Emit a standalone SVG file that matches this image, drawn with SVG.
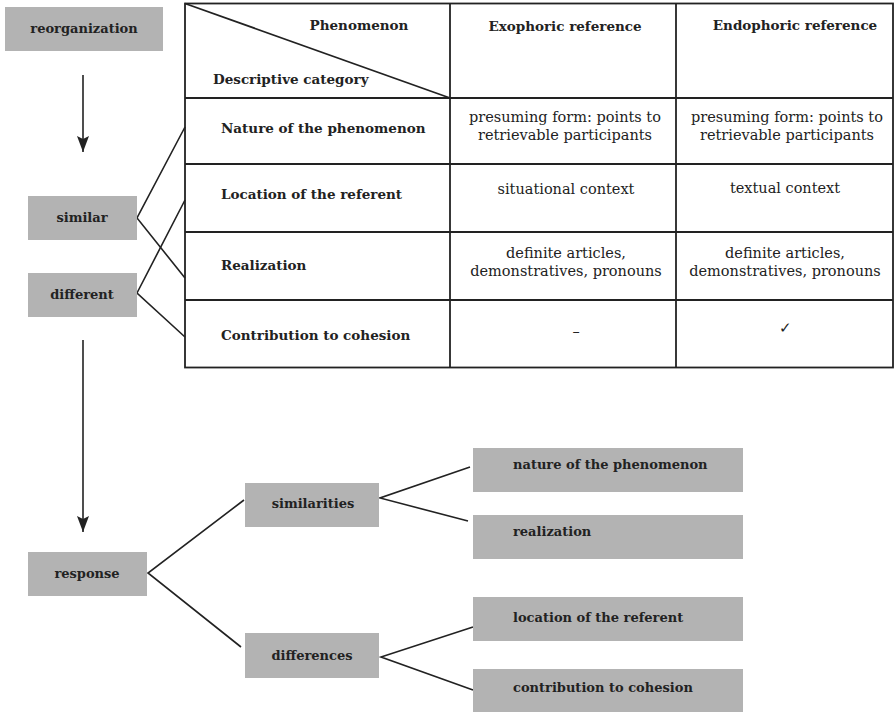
<svg xmlns="http://www.w3.org/2000/svg" width="895" height="712" viewBox="0 0 895 712">
<style>
.box{fill:#b3b3b3;}
.lbl{font-family:"DejaVu Serif","Liberation Serif",serif;font-weight:bold;font-size:13px;fill:#222;}
.hdr{font-family:"DejaVu Serif","Liberation Serif",serif;font-weight:bold;font-size:13.5px;fill:#222;}
.cell{font-family:"DejaVu Serif","Liberation Serif",serif;font-size:14.5px;fill:#222;text-anchor:middle;}
.c{text-anchor:middle;}
.ln{stroke:#222;stroke-width:1.6;fill:none;}
.tb{stroke:#222;stroke-width:1.8;fill:none;}
</style>
<defs>
<marker id="ah" viewBox="0 0 16 12" refX="16" refY="6" markerWidth="16" markerHeight="12" markerUnits="userSpaceOnUse" orient="auto">
<path d="M0,0 L16,6 L0,12 L3,6 Z" fill="#222"/>
</marker>
</defs>
<rect width="895" height="712" fill="#fff"/>

<g id="table">
<rect class="tb" x="185" y="3.5" width="708" height="364"/>
<line class="tb" x1="185" y1="3.5" x2="450" y2="98"/>
<line class="tb" x1="450" y1="3.5" x2="450" y2="367.5"/>
<line class="tb" x1="676" y1="3.5" x2="676" y2="367.5"/>
<line class="tb" x1="185" y1="98" x2="893" y2="98"/>
<line class="tb" x1="185" y1="164" x2="893" y2="164"/>
<line class="tb" x1="185" y1="232" x2="893" y2="232"/>
<line class="tb" x1="185" y1="300" x2="893" y2="300"/>
<text class="hdr c" x="359" y="30">Phenomenon</text>
<text class="hdr" x="213" y="84">Descriptive category</text>
<text class="hdr c" x="565" y="31">Exophoric reference</text>
<text class="hdr c" x="795" y="30">Endophoric reference</text>
<text class="hdr" x="221" y="133">Nature of the phenomenon</text>
<text class="hdr" x="221" y="199">Location of the referent</text>
<text class="hdr" x="221" y="270">Realization</text>
<text class="hdr" x="221" y="340">Contribution to cohesion</text>
<text class="cell" x="565" y="122">presuming form: points to</text>
<text class="cell" x="565" y="140">retrievable participants</text>
<text class="cell" x="787" y="122">presuming form: points to</text>
<text class="cell" x="787" y="140">retrievable participants</text>
<text class="cell" x="566" y="194">situational context</text>
<text class="cell" x="785" y="193">textual context</text>
<text class="cell" x="566" y="258">definite articles,</text>
<text class="cell" x="566" y="276">demonstratives, pronouns</text>
<text class="cell" x="785" y="258">definite articles,</text>
<text class="cell" x="785" y="276">demonstratives, pronouns</text>
<text class="cell" x="576" y="336">–</text>
<text class="cell" x="785" y="333">✓</text>
</g>

<g id="connectors">
<line class="ln" x1="83" y1="75" x2="83" y2="152" marker-end="url(#ah)"/>
<line class="ln" x1="83" y1="340" x2="83" y2="532" marker-end="url(#ah)"/>
<polyline class="ln" points="185,127 137,218 185,278"/>
<polyline class="ln" points="185,200 137,293 185,337"/>
<polyline class="ln" points="244,500 148,573 241,647"/>
<polyline class="ln" points="470,467 380,498 468,521"/>
<polyline class="ln" points="473,627 381,657 473,690"/>
</g>

<g id="reorganization"><rect class="box" x="5" y="7" width="158" height="44"/><text class="lbl c" x="84" y="33">reorganization</text></g>
<g id="similar"><rect class="box" x="28" y="196" width="109" height="44"/><text class="lbl c" x="82" y="222">similar</text></g>
<g id="different"><rect class="box" x="28" y="273" width="109" height="44"/><text class="lbl c" x="82" y="299">different</text></g>
<g id="response"><rect class="box" x="28" y="552" width="119" height="44"/><text class="lbl c" x="87" y="578">response</text></g>
<g id="similarities"><rect class="box" x="245" y="483" width="134" height="44"/><text class="lbl c" x="313" y="508">similarities</text></g>
<g id="differences"><rect class="box" x="245" y="633" width="134" height="45"/><text class="lbl c" x="312" y="660">differences</text></g>
<g id="leaf-nature"><rect class="box" x="473" y="448" width="270" height="44"/><text class="lbl" x="513" y="469">nature of the phenomenon</text></g>
<g id="leaf-realization"><rect class="box" x="473" y="515" width="270" height="44"/><text class="lbl" x="513" y="536">realization</text></g>
<g id="leaf-location"><rect class="box" x="473" y="597" width="270" height="44"/><text class="lbl" x="513" y="622">location of the referent</text></g>
<g id="leaf-contribution"><rect class="box" x="473" y="669" width="270" height="43"/><text class="lbl" x="513" y="692">contribution to cohesion</text></g>
</svg>
